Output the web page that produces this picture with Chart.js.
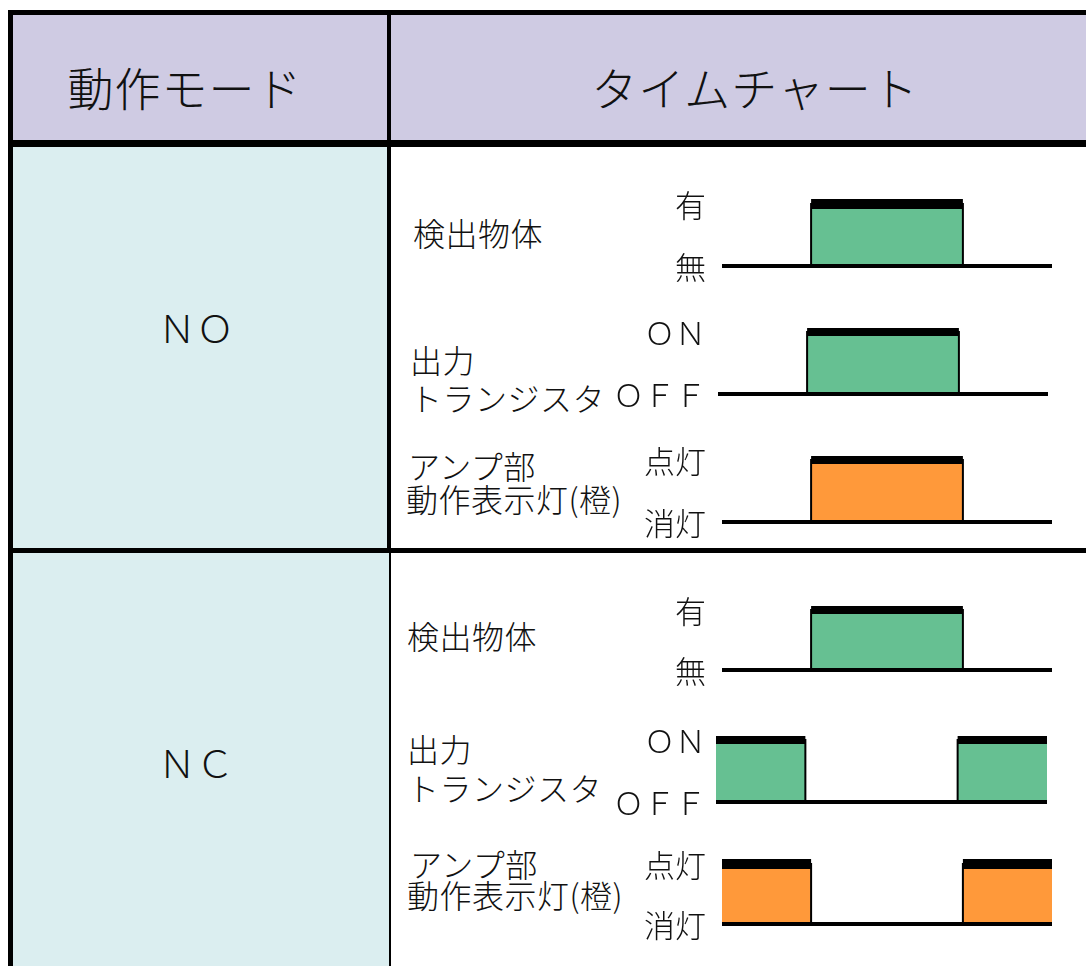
<!DOCTYPE html>
<html lang="ja">
<head>
<meta charset="utf-8">
<title>タイムチャート</title>
<script src="https://cdn.jsdelivr.net/npm/chart.js@4.4.1/dist/chart.umd.min.js"></script>
<style>
  html, body { margin: 0; padding: 0; background: #fff; }
  #page { position: relative; width: 1086px; height: 966px; overflow: hidden;
          font-family: "Noto Sans CJK JP", sans-serif; font-weight: 300; color: #111; }
  .box { position: absolute; }
  .txt { position: absolute; white-space: nowrap; line-height: 1; transform: translateY(-50%); }
  .ctr { transform: translate(-50%, -50%); }
  .wave { position: absolute; left: 600px; width: 486px; }
</style>
</head>
<body>
<div id="page">
  <!-- cell fills -->
  <div class="box" style="left:13px;top:15px;width:1073px;height:125px;background:#cfcbe3"></div>
  <div class="box" style="left:13px;top:147px;width:374px;height:401px;background:#dbeef0"></div>
  <div class="box" style="left:13px;top:553px;width:376px;height:413px;background:#dbeef0"></div>
  <!-- rules -->
  <div class="box" style="left:8px;top:10px;width:1078px;height:5px;background:#000"></div>
  <div class="box" style="left:8px;top:10px;width:5px;height:956px;background:#000"></div>
  <div class="box" style="left:8px;top:140px;width:1078px;height:7px;background:#000"></div>
  <div class="box" style="left:387px;top:10px;width:4px;height:543px;background:#000"></div>
  <div class="box" style="left:389px;top:553px;width:2px;height:413px;background:#000"></div>
  <div class="box" style="left:8px;top:548px;width:1078px;height:5px;background:#000"></div>
</div>
<script>
// header / mode texts
const headers = ['動作モード', 'タイムチャート'];
const modes = ['ＮＯ', 'ＮＣ'];
// signal names and their two levels (high, low)
const signals = [['検出物体'], ['出力', 'トランジスタ'], ['アンプ部', '動作表示灯(橙)']];
const levelNames = [['有', '無'], ['ＯＮ', 'ＯＦＦ'], ['点灯', '消灯']];

// time points (% of the chart width) and signal levels held from each point
const timeline = [0, 27, 73, 100];
const objectNO = [0, 1, 0, 0];
const outputNO = [0, 1, 0, 0];
const lampNO   = [0, 1, 0, 0];
const objectNC = [0, 1, 0, 0];
const outputNC = [1, 0, 1, 1];
const lampNC   = [1, 0, 1, 1];

const GREEN = '#66c092';
const ORANGE = '#ff993a';
const page = document.getElementById('page');

function addText(str, x, y, size, cls, extra) {
  const d = document.createElement('div');
  d.className = 'txt ' + (cls || '');
  d.textContent = str;
  d.style.left = x + 'px';
  d.style.top = y + 'px';
  d.style.fontSize = size + 'px';
  if (extra) Object.assign(d.style, extra);
  page.appendChild(d);
}

addText(headers[0], 185, 86, 46, 'ctr', { letterSpacing: '1px' });
addText(headers[1], 755, 86, 46, 'ctr', { letterSpacing: '1px' });
addText(modes[0], 196, 327, 38, 'ctr');
addText(modes[1], 196, 762, 38, 'ctr');

// row layout: level-1 y, level-0 y, chart left/right, bar width, label line positions
const rows = [
  { levels: objectNO, sig: 0, fill: GREEN,  top: 204, base: 266, x0: 722, x1: 1052, bar: 10, lines: [[413, 232]] },
  { levels: outputNO, sig: 1, fill: GREEN,  top: 332, base: 394, x0: 718, x1: 1048, bar: 8,  lines: [[410, 359], [410, 397]] },
  { levels: lampNO,   sig: 2, fill: ORANGE, top: 460, base: 522, x0: 722, x1: 1052, bar: 8,  lines: [[408, 465], [406, 498]] },
  { levels: objectNC, sig: 0, fill: GREEN,  top: 610, base: 670, x0: 722, x1: 1052, bar: 8,  lines: [[407, 635]] },
  { levels: outputNC, sig: 1, fill: GREEN,  top: 740, base: 802, x0: 716, x1: 1047, bar: 8,  lines: [[407, 748], [407, 787]] },
  { levels: lampNC,   sig: 2, fill: ORANGE, top: 864, base: 924, x0: 722, x1: 1052, bar: 10, lines: [[410, 863], [407, 894]] }
];

const levelLabelPlugin = {
  id: 'levelLabels',
  afterDraw(chart, args, opts) {
    const { ctx } = chart;
    const y = chart.scales.y;
    ctx.save();
    ctx.font = '300 31px "Noto Sans CJK JP"';
    ctx.fillStyle = '#111';
    ctx.textAlign = 'right';
    ctx.textBaseline = 'middle';
    opts.labels.forEach((t, i) => ctx.fillText(t, opts.x, y.getPixelForValue(1 - i) + 1));
    ctx.restore();
  }
};

rows.forEach(r => {
  signals[r.sig].forEach((t, i) => addText(t, r.lines[i][0], r.lines[i][1], 32, '', { letterSpacing: '0.5px' }));

  const pad = 20;
  const wrap = document.createElement('div');
  wrap.className = 'wave';
  wrap.style.top = (r.top - pad) + 'px';
  wrap.style.height = (r.base - r.top + pad * 2) + 'px';
  const cv = document.createElement('canvas');
  wrap.appendChild(cv);
  page.appendChild(wrap);

  const steps = r.levels.map((v, i) => ({ x: timeline[i], y: v }));
  const highBars = [];
  r.levels.forEach((v, i) => {
    if (v === 1 && i < r.levels.length - 1) {
      highBars.push({ x: timeline[i], y: 1 }, { x: timeline[i + 1], y: 1 }, { x: timeline[i + 1], y: null });
    }
  });
  const last = timeline.length - 1;

  new Chart(cv, {
    type: 'line',
    data: {
      datasets: [
        { data: highBars, borderColor: '#000', borderWidth: r.bar, borderCapStyle: 'butt',
          spanGaps: false, pointRadius: 0, fill: false, clip: false },
        { data: [{ x: timeline[0], y: 0 }, { x: timeline[last], y: 0 }], borderColor: '#000',
          borderWidth: 4, borderCapStyle: 'butt', pointRadius: 0, fill: false, clip: false },
        { data: steps, stepped: true, borderColor: '#000', borderWidth: 2, backgroundColor: r.fill,
          fill: { value: 0 }, pointRadius: 0, clip: false }
      ]
    },
    options: {
      responsive: true,
      maintainAspectRatio: false,
      animation: false,
      events: [],
      layout: { padding: { left: r.x0 - 600, right: 1086 - r.x1, top: pad, bottom: pad } },
      scales: {
        x: { type: 'linear', min: timeline[0], max: timeline[last], display: false },
        y: { min: 0, max: 1, display: false }
      },
      plugins: {
        legend: { display: false },
        tooltip: { enabled: false },
        levelLabels: { labels: levelNames[r.sig], x: 706 - 600 }
      }
    },
    plugins: [levelLabelPlugin]
  });
});
</script>
</body>
</html>
